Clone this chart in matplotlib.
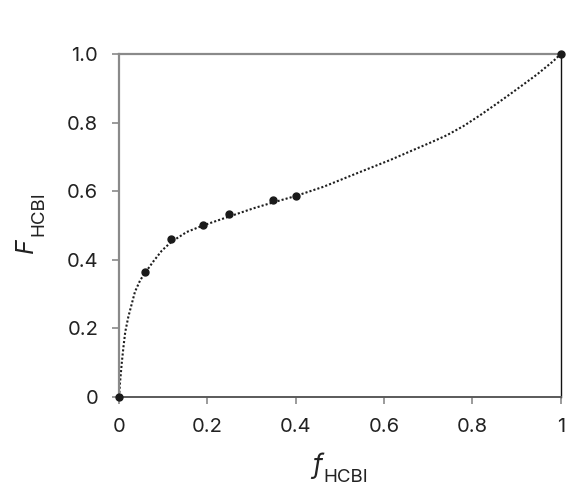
import matplotlib.pyplot as plt

# measured copolymer composition (feed fraction f vs copolymer fraction F)
f_meas = [0.0, 0.059, 0.118, 0.190, 0.249, 0.348, 0.400, 1.0]
F_meas = [0.0, 0.364, 0.460, 0.502, 0.533, 0.574, 0.586, 1.0]

# fitted curve
f_fit = [0.0, 0.002, 0.006, 0.010, 0.014, 0.021, 0.029, 0.036, 0.048, 0.059,
         0.078, 0.097, 0.118, 0.153, 0.190, 0.249, 0.304, 0.348, 0.400, 0.463,
         0.538, 0.614, 0.666, 0.704, 0.742, 0.780, 0.817, 0.855, 0.893, 0.946,
         0.983, 1.0]
F_fit = [0.0, 0.040, 0.098, 0.147, 0.190, 0.234, 0.273, 0.307, 0.341, 0.362,
         0.396, 0.427, 0.452, 0.481, 0.500, 0.526, 0.550, 0.567, 0.586, 0.613,
         0.652, 0.691, 0.720, 0.741, 0.763, 0.790, 0.821, 0.855, 0.890, 0.940,
         0.979, 1.0]

x_ticks = [0, 0.2, 0.4, 0.6, 0.8, 1.0]
x_ticklabels = ["0", "0.2", "0.4", "0.6", "0.8", "1"]
y_ticks = [0, 0.2, 0.4, 0.6, 0.8, 1.0]
y_ticklabels = ["0", "0.2", "0.4", "0.6", "0.8", "1.0"]

plt.rcParams["font.family"] = ["Inter", "DejaVu Sans"]

W, H = 567, 486
fig = plt.figure(figsize=(W / 100, H / 100), dpi=100)
ax = fig.add_axes([0.210, 0.183, 0.779, 0.706])

ax.plot(f_fit, F_fit, color="#1e1e1e", lw=1.5, linestyle=(0, (1, 1)),
        dash_capstyle="butt", clip_on=False)
ax.plot(f_meas, F_meas, "o", color="#1a1a1a", ms=5, clip_on=False, zorder=3)

ax.set_xlim(0, 1)
ax.set_ylim(0, 1)
ax.set_xticks(x_ticks)
ax.set_xticklabels(x_ticklabels)
ax.set_yticks(y_ticks)
ax.set_yticklabels(y_ticklabels)
ax.tick_params(direction="out", length=5, width=1.2, color="#8a8a8a",
               labelsize=14.5, labelcolor="#222222", pad=10)

for side in ["left", "top"]:
    ax.spines[side].set_color("#8a8a8a")
    ax.spines[side].set_linewidth(1.6)
ax.spines["bottom"].set_color("#5a5a5a")
ax.spines["bottom"].set_linewidth(1.4)
ax.spines["right"].set_color("#111111")
ax.spines["right"].set_linewidth(1.0)


def px(x, y):
    return x / W, 1 - y / H


# axis labels: italic letter with a full-size upright subscript
lab = dict(color="#222222", ha="left", va="baseline")
fig.text(*px(312, 473), "f", fontsize=19, style="italic", **lab)
fig.text(*px(323, 482), "HCBI", fontsize=13.5, **lab)
fig.text(*px(33, 253), "F", fontsize=18, style="italic", rotation=90,
         rotation_mode="anchor", **lab)
fig.text(*px(43, 236), "HCBI", fontsize=13.5, rotation=90,
         rotation_mode="anchor", **lab)

fig.savefig("out.png", dpi=100)
